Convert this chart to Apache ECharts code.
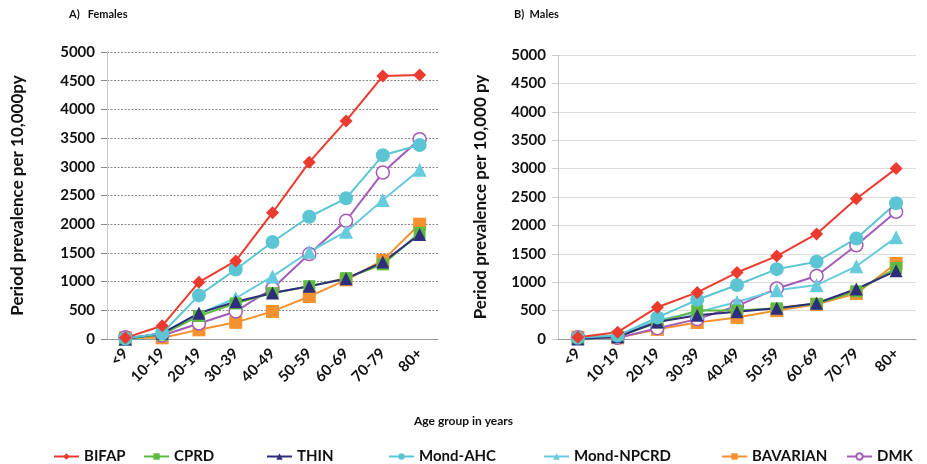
<!DOCTYPE html>
<html>
<head>
<meta charset="utf-8">
<script src="https://cdn.jsdelivr.net/npm/echarts@6/dist/echarts.min.js"></script>
<style>
  html, body { margin: 0; padding: 0; background: #fff; }
  #chart { width: 927px; height: 464px; }
</style>
</head>
<body>
<div id="chart"></div>
<script>
// Age groups shared by both panels
const ageGroups = ['<9', '10-19', '20-19', '30-39', '40-49', '50-59', '60-69', '70-79', '80+'];
const yTicks = [0, 500, 1000, 1500, 2000, 2500, 3000, 3500, 4000, 4500, 5000];

// Period prevalence per 10,000 person-years, females
const femBIFAP     = [20, 230, 990, 1360, 2200, 3080, 3800, 4580, 4600];
const femCPRD      = [0, 80, 400, 620, 800, 920, 1060, 1300, 1850];
const femTHIN      = [0, 100, 450, 650, 800, 920, 1050, 1340, 1820];
const femMondAHC   = [10, 100, 760, 1210, 1690, 2130, 2450, 3200, 3380];
const femMondNPCRD = [0, 100, 440, 710, 1090, 1520, 1870, 2420, 2950];
const femBAVARIAN  = [20, 20, 160, 290, 480, 740, 1030, 1370, 2000];
const femDMK       = [30, 60, 270, 480, 880, 1480, 2060, 2900, 3480];

// Period prevalence per 10,000 person-years, males
const maleBIFAP     = [30, 120, 560, 820, 1170, 1460, 1850, 2470, 3000];
const maleCPRD      = [0, 40, 290, 500, 500, 540, 620, 840, 1250];
const maleTHIN      = [0, 40, 300, 420, 480, 540, 630, 880, 1200];
const maleMondAHC   = [20, 60, 380, 690, 950, 1230, 1360, 1770, 2390];
const maleMondNPCRD = [20, 60, 330, 470, 650, 860, 950, 1280, 1790];
const maleBAVARIAN  = [30, 20, 170, 290, 380, 500, 610, 800, 1330];
const maleDMK       = [30, 20, 190, 350, 580, 890, 1110, 1650, 2240];

const seriesNames = ['BIFAP', 'CPRD', 'THIN', 'Mond-AHC', 'Mond-NPCRD', 'BAVARIAN', 'DMK'];

const FONT = 'Lato, "Open Sans", sans-serif';

// Visual style for each data source
const styles = {
  'BIFAP':      { color: '#ec3a2e', symbol: 'diamond',  size: 13, fill: '#ec3a2e' },
  'CPRD':       { color: '#5dbb3f', symbol: 'rect',     size: 12, fill: '#5dbb3f' },
  'THIN':       { color: '#2f2e7c', symbol: 'triangle', size: 13, fill: '#2f2e7c' },
  'Mond-AHC':   { color: '#5cc5d3', symbol: 'circle',   size: 14, fill: '#5cc5d3' },
  'Mond-NPCRD': { color: '#66cbdc', symbol: 'triangle', size: 14, fill: '#66cbdc' },
  'BAVARIAN':   { color: '#f5922f', symbol: 'rect',     size: 13, fill: '#f5922f' },
  'DMK':        { color: '#a35ab8', symbol: 'circle',   size: 13, fill: '#ffffff' }
};

const femData = [femBIFAP, femCPRD, femTHIN, femMondAHC, femMondNPCRD, femBAVARIAN, femDMK];
const maleData = [maleBIFAP, maleCPRD, maleTHIN, maleMondAHC, maleMondNPCRD, maleBAVARIAN, maleDMK];

// Draw order: later entries on top
const drawOrder = ['BAVARIAN', 'DMK', 'Mond-NPCRD', 'CPRD', 'THIN', 'Mond-AHC', 'BIFAP'];

function makeSeries(dataSets, axisIdx) {
  return drawOrder.map(name => {
    const st = styles[name];
    const values = dataSets[seriesNames.indexOf(name)];
    return {
      name: name,
      type: 'line',
      xAxisIndex: axisIdx,
      yAxisIndex: axisIdx,
      data: values,
      symbol: st.symbol,
      symbolSize: st.size,
      showAllSymbol: true,
      lineStyle: { color: st.color, width: 2 },
      itemStyle: { color: st.fill, borderColor: st.color, borderWidth: st.fill === '#ffffff' ? 1.5 : 0 },
      emphasis: { disabled: true },
      animation: false
    };
  });
}

function yAxis(gridIndex, nameGap, name, dashed) {
  return {
    type: 'value',
    gridIndex: gridIndex,
    min: 0, max: 5000, interval: 500,
    name: name,
    nameLocation: 'middle',
    nameGap: nameGap,
    nameRotate: 90,
    nameTextStyle: { fontFamily: FONT, fontWeight: 'bold', fontSize: 17, color: '#111' },
    axisLine: { show: true, lineStyle: { color: '#c8c8c8', width: 1 } },
    axisTick: { show: true, length: 6, lineStyle: { color: dashed ? '#888' : '#ccc' } },
    axisLabel: {
      fontFamily: FONT, fontWeight: 'bold', fontSize: 15, color: '#111', margin: 12,
      formatter: v => (yTicks.indexOf(v) >= 0 ? String(v) : '')
    },
    splitLine: {
      show: true,
      lineStyle: dashed ? { color: '#8a8a8a', type: [2, 1.5], width: 1 } : { color: '#dcdcdc', width: 1 }
    }
  };
}

function xAxis(gridIndex) {
  return {
    type: 'category',
    gridIndex: gridIndex,
    data: ageGroups,
    boundaryGap: true,
    axisLine: { show: true, lineStyle: { color: '#9a9a9a', width: 1 } },
    axisTick: { show: false },
    axisLabel: {
      rotate: 45, interval: 0, margin: 12,
      fontFamily: FONT, fontWeight: 'bold', fontSize: 15, color: '#111'
    }
  };
}

// Legend entries placed individually along the bottom
const legendLeft = [48, 138, 261, 383, 538, 716, 841];
const legends = seriesNames.map((name, i) => ({
  data: [name],
  left: legendLeft[i],
  top: 444,
  itemWidth: 25,
  itemHeight: 8,
  itemGap: 0,
  selectedMode: false,
  textStyle: { fontFamily: FONT, fontWeight: 'bold', fontSize: 15, color: '#111' }
}));

const chart = echarts.init(document.getElementById('chart'), null, { renderer: 'canvas' });
chart.setOption({
  backgroundColor: '#ffffff',
  animation: false,
  title: [
    { text: 'A)   Females', left: 64, top: 4, textStyle: { fontFamily: FONT, fontWeight: 'bold', fontSize: 11, color: '#111' } },
    { text: 'B)  Males', left: 509, top: 4, textStyle: { fontFamily: FONT, fontWeight: 'bold', fontSize: 11, color: '#111' } }
  ],
  graphic: [
    { type: 'text', left: 'center', top: 415, style: { text: 'Age group in years', font: 'bold 12px ' + FONT, fill: '#111' } }
  ],
  legend: legends,
  grid: [
    { left: 107, right: 489, top: 52, bottom: 125 },
    { left: 558, right: 11, top: 55, bottom: 125 }
  ],
  xAxis: [xAxis(0), xAxis(1)],
  yAxis: [
    yAxis(0, 81, 'Period prevalence per 10,000py', true),
    yAxis(1, 69, 'Period prevalence per 10,000 py', false)
  ],
  series: makeSeries(femData, 0).concat(makeSeries(maleData, 1))
});
</script>
</body>
</html>
